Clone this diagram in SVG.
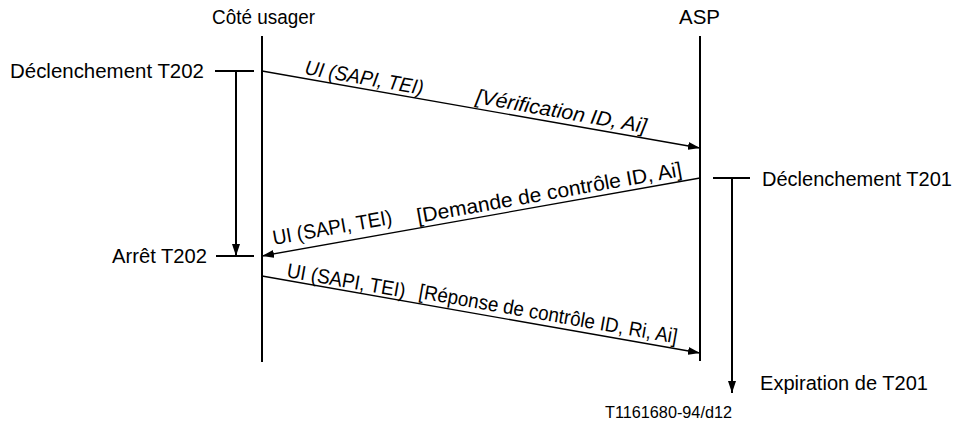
<svg xmlns="http://www.w3.org/2000/svg" width="956" height="427" viewBox="0 0 956 427">
<style>
text{font-family:"Liberation Sans",Arial,sans-serif;font-size:20.5px;fill:#000}
.it{font-style:italic}
.small{font-size:16px}
.life{stroke:#000;stroke-width:2;fill:none}
.msg{stroke:#000;stroke-width:1.3;fill:none}
.tick{stroke:#000;stroke-width:2;fill:none}
</style>
<defs>
<marker id="ah" viewBox="0 0 12 8" refX="12" refY="4" markerWidth="12" markerHeight="8" markerUnits="userSpaceOnUse" orient="auto">
<path d="M0,0 L12,4 L0,8 Z" fill="#000"/>
</marker>
</defs>
<rect width="956" height="427" fill="#fff"/>
<g id="user">
<text x="212" y="24" textLength="103" lengthAdjust="spacingAndGlyphs">Côté usager</text>
<line class="life" x1="262" y1="36" x2="262" y2="362"/>
</g>
<g id="asp">
<text x="679" y="24" textLength="41" lengthAdjust="spacingAndGlyphs">ASP</text>
<line class="life" x1="700" y1="36" x2="700" y2="361"/>
</g>
<g id="t202">
<text x="10" y="78" textLength="194" lengthAdjust="spacingAndGlyphs">Déclenchement T202</text>
<line class="tick" x1="215" y1="71" x2="254" y2="71"/>
<line class="tick" x1="236" y1="71" x2="236" y2="256" marker-end="url(#ah)"/>
<line class="tick" x1="216" y1="256" x2="254" y2="256"/>
<text x="112" y="263" textLength="95" lengthAdjust="spacingAndGlyphs">Arrêt T202</text>
</g>
<g id="t201">
<line class="tick" x1="713" y1="178" x2="750" y2="178"/>
<text x="762" y="186" textLength="190" lengthAdjust="spacingAndGlyphs">Déclenchement T201</text>
<line class="tick" x1="732" y1="178" x2="732" y2="393" marker-end="url(#ah)"/>
<text x="760" y="390" textLength="168" lengthAdjust="spacingAndGlyphs">Expiration de T201</text>
</g>
<g id="connectors">
<line class="msg" x1="262" y1="71" x2="700" y2="148" marker-end="url(#ah)"/>
<line class="msg" x1="700" y1="178" x2="262" y2="256" marker-end="url(#ah)"/>
<line class="msg" x1="262" y1="276" x2="700" y2="353" marker-end="url(#ah)"/>
</g>
<g id="labels">
<text class="it" x="304" y="74" transform="rotate(10 304 74)" textLength="120" lengthAdjust="spacingAndGlyphs">UI (SAPI, TEI)</text>
<text class="it" x="475" y="103" transform="rotate(10 475 103)" textLength="173" lengthAdjust="spacingAndGlyphs">[Vérification ID, Ai]</text>
<text x="274" y="245" transform="rotate(-10.1 274 245)" textLength="121" lengthAdjust="spacingAndGlyphs">UI (SAPI, TEI)</text>
<text x="418" y="223" transform="rotate(-10.1 418 223)" textLength="269" lengthAdjust="spacingAndGlyphs">[Demande de contrôle ID, Ai]</text>
<text x="286" y="277" transform="rotate(10 286 277)" textLength="120" lengthAdjust="spacingAndGlyphs">UI (SAPI, TEI)</text>
<text x="418" y="298" transform="rotate(10 418 298)" textLength="262" lengthAdjust="spacingAndGlyphs">[Réponse de contrôle ID, Ri, Ai]</text>
</g>
<text class="small" x="605" y="418" textLength="127" lengthAdjust="spacingAndGlyphs">T1161680-94/d12</text>
</svg>
